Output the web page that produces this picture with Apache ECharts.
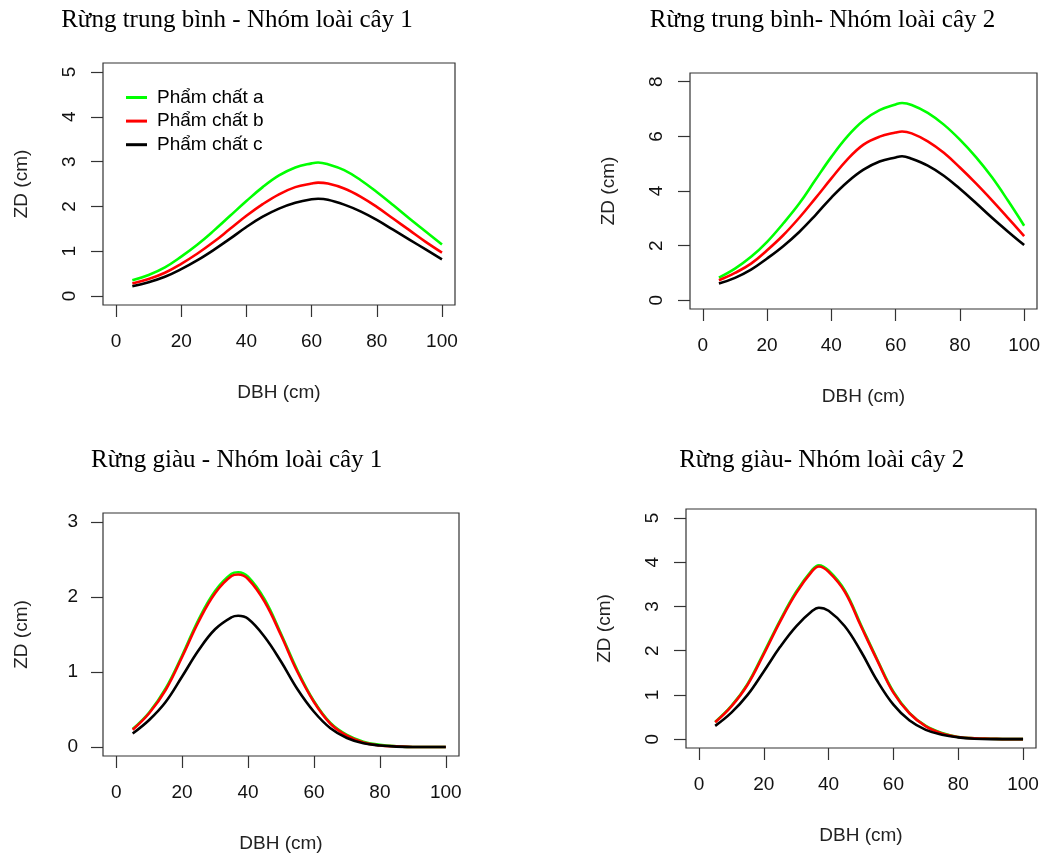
<!DOCTYPE html>
<html><head><meta charset="utf-8">
<script src="https://cdn.jsdelivr.net/npm/echarts@6/dist/echarts.min.js"></script>
<style>html,body{margin:0;padding:0;background:#fff}#c{width:1044px;height:857px}</style>
</head><body><div id="c"></div>
<script>
// ---- data ----
const seriesNames = ['Phẩm chất a', 'Phẩm chất b', 'Phẩm chất c'];
const panelTitles = ['Rừng trung bình - Nhóm loài cây 1', 'Rừng trung bình- Nhóm loài cây 2',
                     'Rừng giàu - Nhóm loài cây 1', 'Rừng giàu- Nhóm loài cây 2'];
const xName = 'DBH (cm)';
const yName = 'ZD (cm)';
const xTicks = [0, 20, 40, 60, 80, 100];
const yTicks1 = [0, 1, 2, 3, 4, 5];
const yTicks2 = [0, 2, 4, 6, 8];
const yTicks3 = [0, 1, 2, 3];
const yTicks4 = [0, 1, 2, 3, 4, 5];

const dbhTop = [5, 10, 15, 20, 25, 30, 35, 40, 45, 50, 55, 60, 62, 65, 70, 75, 80, 85, 90, 95, 100];
const p1a = [0.35, 0.47, 0.64, 0.88, 1.15, 1.46, 1.79, 2.12, 2.43, 2.69, 2.87, 2.96, 2.98, 2.94, 2.81, 2.59, 2.32, 2.03, 1.73, 1.44, 1.15];
const p1b = [0.28, 0.38, 0.52, 0.72, 0.95, 1.21, 1.50, 1.79, 2.05, 2.27, 2.43, 2.51, 2.53, 2.51, 2.40, 2.22, 1.99, 1.73, 1.47, 1.21, 0.97];
const p1c = [0.22, 0.31, 0.43, 0.60, 0.80, 1.03, 1.28, 1.54, 1.77, 1.95, 2.08, 2.16, 2.17, 2.15, 2.04, 1.89, 1.70, 1.48, 1.26, 1.04, 0.82];
const p2a = [0.83, 1.16, 1.59, 2.14, 2.81, 3.54, 4.40, 5.25, 6.00, 6.58, 6.96, 7.17, 7.22, 7.15, 6.86, 6.43, 5.88, 5.24, 4.50, 3.64, 2.73];
const p2b = [0.73, 1.00, 1.34, 1.83, 2.38, 3.02, 3.73, 4.46, 5.16, 5.70, 5.99, 6.14, 6.18, 6.11, 5.82, 5.40, 4.86, 4.28, 3.66, 3.01, 2.35];
const p2c = [0.61, 0.82, 1.12, 1.53, 1.98, 2.50, 3.11, 3.76, 4.33, 4.78, 5.08, 5.23, 5.27, 5.18, 4.93, 4.56, 4.08, 3.56, 3.02, 2.51, 2.02];

const dbhBottom = [5, 10, 15, 20, 25, 30, 35, 37, 40, 45, 50, 55, 60, 65, 70, 75, 80, 85, 90, 95, 100];
const p3a = [0.24, 0.46, 0.78, 1.22, 1.70, 2.08, 2.31, 2.33, 2.27, 1.97, 1.51, 1.02, 0.61, 0.32, 0.16, 0.07, 0.03, 0.01, 0, 0, 0];
const p3b = [0.23, 0.45, 0.76, 1.20, 1.67, 2.05, 2.28, 2.30, 2.24, 1.94, 1.49, 1.00, 0.60, 0.31, 0.15, 0.06, 0.02, 0.01, 0, 0, 0];
const p3c = [0.18, 0.36, 0.60, 0.94, 1.29, 1.57, 1.73, 1.75, 1.71, 1.47, 1.14, 0.77, 0.47, 0.25, 0.12, 0.05, 0.02, 0.005, 0, 0, 0];
const p4a = [0.39, 0.75, 1.25, 1.95, 2.68, 3.33, 3.83, 3.93, 3.81, 3.36, 2.58, 1.80, 1.07, 0.59, 0.30, 0.14, 0.05, 0.02, 0.01, 0, 0];
const p4b = [0.38, 0.74, 1.23, 1.92, 2.65, 3.30, 3.80, 3.90, 3.78, 3.33, 2.55, 1.78, 1.05, 0.58, 0.29, 0.13, 0.05, 0.02, 0.01, 0, 0];
const p4c = [0.30, 0.60, 1.00, 1.53, 2.08, 2.55, 2.90, 2.97, 2.90, 2.55, 1.98, 1.32, 0.78, 0.42, 0.21, 0.10, 0.04, 0.01, 0, 0, 0];

// ---- layout / style ----
const colors = ['#00ff00', '#ff0000', '#000000'];
const sans = 'Liberation Sans, Arial, sans-serif';
const serif = 'Liberation Serif, Times New Roman, serif';
const panels = [
  {grid: {left: 103, top: 63, width: 352, height: 242}, y: [-0.2, 5.2], ticks: yTicks1, rot: 90, x: dbhTop, s: [p1a, p1b, p1c], title: [237, 7.5]},
  {grid: {left: 690, top: 73, width: 347, height: 236}, y: [-0.32, 8.32], ticks: yTicks2, rot: 90, x: dbhTop, s: [p2a, p2b, p2c], title: [822.5, 7.5]},
  {grid: {left: 103, top: 513, width: 356, height: 243}, y: [-0.12, 3.12], ticks: yTicks3, rot: 0, x: dbhBottom, s: [p3a, p3b, p3c], title: [236.7, 447.5]},
  {grid: {left: 686, top: 509, width: 350, height: 239}, y: [-0.2, 5.2], ticks: yTicks4, rot: 90, x: dbhBottom, s: [p4a, p4b, p4c], title: [821.7, 447.5]}
];

const zip = (xs, ys) => xs.map((x, i) => [x, ys[i]]);
const option = {
  animation: false,
  backgroundColor: '#fff',
  title: panels.map((p, i) => ({
    text: panelTitles[i], left: p.title[0], top: p.title[1], textAlign: 'center', padding: 0,
    textStyle: {fontFamily: serif, fontSize: 25, fontWeight: 'normal', color: '#000'}
  })),
  legend: {
    data: seriesNames, orient: 'vertical', left: 126, top: 87.5, padding: 0,
    itemWidth: 21, itemHeight: 3, itemGap: 3.6, icon: 'rect',
    textStyle: {fontFamily: sans, fontSize: 19, color: '#000', lineHeight: 20, padding: [0, 0, 0, 5]}
  },
  grid: panels.map(p => Object.assign({show: true, borderColor: '#333', borderWidth: 1.2, backgroundColor: 'transparent'}, p.grid)),
  xAxis: panels.map((p, i) => ({
    type: 'value', gridIndex: i, min: -4, max: 104,
    name: xName, nameLocation: 'middle', nameGap: 78,
    nameTextStyle: {fontFamily: sans, fontSize: 19, color: '#222'},
    axisLine: {show: false, onZero: false}, splitLine: {show: false},
    axisTick: {show: true, length: 12, customValues: xTicks, lineStyle: {color: '#333', width: 1.2}},
    axisLabel: {customValues: xTicks, margin: 27, fontFamily: sans, fontSize: 19, color: '#111'}
  })),
  yAxis: panels.map((p, i) => ({
    type: 'value', gridIndex: i, min: p.y[0], max: p.y[1],
    name: yName, nameLocation: 'middle', nameGap: 72,
    nameTextStyle: {fontFamily: sans, fontSize: 19, color: '#222'},
    axisLine: {show: false, onZero: false}, splitLine: {show: false},
    axisTick: {show: true, length: 12, customValues: p.ticks, lineStyle: {color: '#333', width: 1.2}},
    axisLabel: {customValues: p.ticks, rotate: p.rot, margin: p.rot ? 24 : 25, fontFamily: sans, fontSize: 19, color: '#111'}
  })),
  series: []
};
panels.forEach((p, i) => {
  p.s.forEach((ys, k) => {
    option.series.push({
      type: 'line', name: seriesNames[k], xAxisIndex: i, yAxisIndex: i,
      data: zip(p.x, ys), showSymbol: false, symbol: 'none', smooth: 0.4,
      lineStyle: {color: colors[k], width: 2.6}, itemStyle: {color: colors[k]},
      emphasis: {disabled: true}
    });
  });
});
const chart = echarts.init(document.getElementById('c'), null, {renderer: 'canvas'});
chart.setOption(option);
</script>
</body></html>
